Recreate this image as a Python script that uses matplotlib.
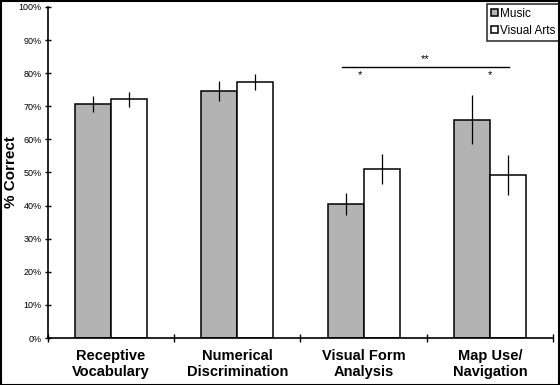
import matplotlib
matplotlib.use('Agg')
import matplotlib.pyplot as plt
import numpy as np
from matplotlib.patches import Rectangle

plt.rcParams['font.family'] = ['Liberation Sans', 'DejaVu Sans']

categories = ['Receptive\nVocabulary', 'Numerical\nDiscrimination', 'Visual Form\nAnalysis', 'Map Use/\nNavigation']
music = [70.7, 74.7, 40.5, 66.0]
music_err = [2.5, 3.0, 3.2, 7.3]
arts = [72.1, 77.2, 51.0, 49.2]
arts_err = [2.2, 2.4, 4.5, 6.0]

fig = plt.figure(figsize=(5.6, 3.85), dpi=100)
ax = fig.add_axes([0.0857, 0.122, 0.9018, 0.860])

ind = np.arange(len(categories)) + 0.5
width = 0.286

ax.bar(ind - width / 2, music, width, color='#b3b3b3', edgecolor='black', linewidth=1.1, label='Music', zorder=2)
ax.bar(ind + width / 2, arts, width, color='white', edgecolor='black', linewidth=1.1, label='Visual Arts', zorder=2)
ax.errorbar(ind - width / 2, music, yerr=music_err, fmt='none', ecolor='black', elinewidth=0.9, capsize=0, zorder=3)
ax.errorbar(ind + width / 2, arts, yerr=arts_err, fmt='none', ecolor='black', elinewidth=0.9, capsize=0, zorder=3)

# significance markers
ax.plot([2.33, 3.65], [82, 82], color='black', lw=1)
ax.text(2.99, 82.8, '**', ha='center', va='bottom', fontsize=8)
ax.text(2.47, 81.0, '*', ha='center', va='top', fontsize=8)
ax.text(3.50, 81.0, '*', ha='center', va='top', fontsize=8)

ax.set_xlim(0, 4)
ax.set_ylim(0, 100)
ax.set_yticks(np.arange(0, 101, 10))
ax.set_yticklabels(['%d%%' % v for v in range(0, 101, 10)], fontsize=6.5)
ax.set_xticks(np.arange(0, 5))
ax.set_xticklabels([])
ax.set_xticks(ind, minor=True)
ax.set_xticklabels(categories, minor=True, fontsize=10.5, fontweight='bold', linespacing=1.15)
ax.tick_params(axis='x', which='minor', length=0, pad=8)
ax.tick_params(axis='x', which='major', direction='inout', length=6, width=1)
ax.tick_params(axis='y', direction='inout', length=5, width=1, pad=2)
ax.set_ylabel('% Correct', fontsize=11, fontweight='bold')
ax.yaxis.set_label_coords(-0.060, 0.5)

for s in ['top', 'right']:
    ax.spines[s].set_visible(False)
for s in ['left', 'bottom']:
    ax.spines[s].set_linewidth(1.2)

leg = ax.legend(loc='upper right', bbox_to_anchor=(1.012, 1.01), fontsize=8.5, frameon=True, fancybox=False,
                handlelength=0.55, handleheight=0.55, handletextpad=0.15, borderpad=0.35, labelspacing=0.45,
                borderaxespad=0, shadow=False)
leg.get_frame().set_edgecolor('black')
leg.get_frame().set_linewidth(1.2)

fig.patches.append(Rectangle((0.001, 0.001), 0.997, 0.997, transform=fig.transFigure, fill=False,
                             edgecolor='black', linewidth=1.5))

fig.savefig('out.png', dpi=100)
